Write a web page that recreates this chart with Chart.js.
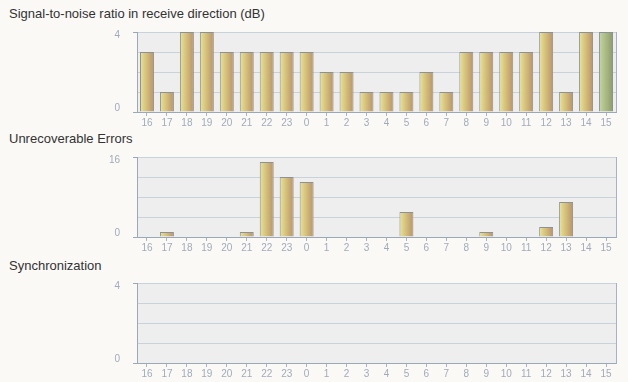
<!DOCTYPE html>
<html><head><meta charset="utf-8">
<script src="https://cdn.jsdelivr.net/npm/chart.js@4.4.1/dist/chart.umd.min.js"></script>
<style>
html,body{margin:0;padding:0;background:#faf9f5;width:628px;height:382px;overflow:hidden;}
.t{position:absolute;left:9px;font:13px "Liberation Sans",Arial,sans-serif;color:#333;white-space:nowrap;line-height:15px}
canvas{position:absolute;left:0}
</style></head><body>
<div class="t" style="top:6px">Signal-to-noise ratio in receive direction (dB)</div>
<div class="t" style="top:131px">Unrecoverable Errors</div>
<div class="t" style="top:258px">Synchronization</div>
<canvas id="c1" width="628" height="120" style="top:12px"></canvas>
<canvas id="c2" width="628" height="120" style="top:137px"></canvas>
<canvas id="c3" width="628" height="120" style="top:263px"></canvas>
<script>
const hours = ['16','17','18','19','20','21','22','23','0','1','2','3','4','5','6','7','8','9','10','11','12','13','14','15'];
const snrValues = [3,1,4,4,3,3,3,3,3,2,2,1,1,1,2,1,3,3,3,3,4,1,4,4];
const errorValues = [0,1,0,0,0,1,15,12,11,0,0,0,0,5,0,0,0,1,0,0,2,7,0,0];
const syncValues = [0,0,0,0,0,0,0,0,0,0,0,0,0,0,0,0,0,0,0,0,0,0,0,0];
const snrMax = 4, errMax = 16, syncMax = 4;
const snrStep = 1, errStep = 4, syncStep = 1;
const snrHighlight = 23;

const FONT = '"Liberation Sans", Arial, sans-serif';
const GOLD = ['#ece68c', '#b8926a'];
const GREEN = ['#c4d89e', '#8e9a6a'];
const AXIS = '#9aa8b8', GRID = '#c9d2dc', LABEL = '#a0abbb';
const BAR_PCT = 0.7;

const plotBg = {
  id: 'plotBg',
  beforeDraw(chart) {
    const {ctx, chartArea: a} = chart;
    ctx.save();
    ctx.fillStyle = '#eeeeee';
    ctx.fillRect(a.left, a.top, a.right - a.left, a.bottom - a.top);
    ctx.restore();
  },
  afterDraw(chart) {
    const {ctx, chartArea: a} = chart;
    ctx.save();
    ctx.strokeStyle = '#a4b2c2';
    ctx.lineWidth = 1;
    ctx.beginPath();
    ctx.moveTo(Math.round(a.right) + 0.5, a.top);
    ctx.lineTo(Math.round(a.right) + 0.5, a.bottom + 0.5);
    ctx.stroke();
    ctx.restore();
  }
};

function barFill(highlight) {
  return (c) => {
    const s = c.chart.scales && c.chart.scales.x;
    const cols = c.dataIndex === highlight ? GREEN : GOLD;
    if (!s || c.dataIndex === undefined || !s.ticks || !s.ticks.length) return cols[0];
    const x = s.getPixelForValue(c.dataIndex);
    const w = (s.right - s.left) / s.ticks.length * BAR_PCT;
    const g = c.chart.ctx.createLinearGradient(x - w / 2, 0, x + w / 2, 0);
    g.addColorStop(0, cols[0]);
    g.addColorStop(1, cols[1]);
    return g;
  };
}

function makeChart(id, values, max, step, highlight) {
  new Chart(document.getElementById(id), {
    type: 'bar',
    data: { labels: hours, datasets: [{ data: values, borderColor: '#8a9298', borderWidth: 1, backgroundColor: barFill(highlight), barPercentage: BAR_PCT, categoryPercentage: 1 }] },
    options: {
      responsive: false, animation: false, devicePixelRatio: 1,
      layout: { padding: { left: 0, right: 12, top: 0, bottom: 0 } },
      plugins: { legend: { display: false }, tooltip: { enabled: false } },
      scales: {
        x: {
          offset: true,
          grid: { display: true, drawOnChartArea: false, drawTicks: true, tickLength: 4, offset: false, tickColor: '#a8b4c2' },
          border: { color: AXIS, width: 1 },
          ticks: { autoSkip: false, maxRotation: 0, padding: 1, color: LABEL, font: { family: FONT, size: 10 } },
          afterFit(s) { s.height = 20; }
        },
        y: {
          min: 0, max: max,
          grid: {
            drawTicks: true, tickLength: 4,
            color: (c) => (c.tick && c.tick.value === 0) ? AXIS : GRID,
            tickColor: (c) => (c.tick && (c.tick.value === 0 || c.tick.value === max)) ? AXIS : 'rgba(0,0,0,0)'
          },
          border: { color: AXIS, width: 1 },
          ticks: {
            stepSize: step, padding: 13, color: LABEL,
            font: { family: FONT, size: 10, lineHeight: '7px' },
            callback: (v) => v === 0 ? ['0', ''] : (v === max ? ['', String(max)] : '')
          },
          afterFit(s) { s.width = 137; }
        }
      }
    },
    plugins: [plotBg]
  });
}

makeChart('c1', snrValues, snrMax, snrStep, snrHighlight);
makeChart('c2', errorValues, errMax, errStep, -1);
makeChart('c3', syncValues, syncMax, syncStep, -1);
</script>
</body></html>
